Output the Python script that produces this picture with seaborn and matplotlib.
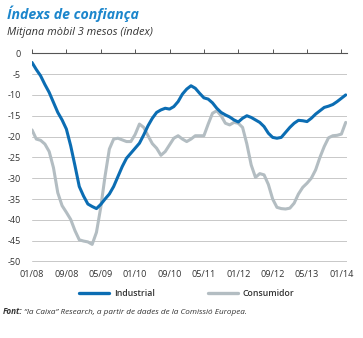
import numpy as np
import pandas as pd
import matplotlib
matplotlib.use("Agg")
import matplotlib.pyplot as plt
import seaborn as sns
from matplotlib.lines import Line2D

# ---- data (monthly, 01/08 .. 02/14) ----
industrial = [-2.2, -3.9, -5.4, -7.5, -9.4, -11.8, -14.2, -16.0, -18.2, -22.2,
              -27.0, -32.0, -34.3, -36.2, -36.8, -37.3, -36.3, -35.0, -33.8, -32.0,
              -29.6, -27.2, -25.2, -24.0, -22.8, -21.6, -19.6, -17.4, -15.6, -14.2,
              -13.6, -13.2, -13.4, -12.8, -11.6, -9.8, -8.6, -7.8, -8.4, -9.6,
              -10.7, -11.0, -11.9, -13.2, -14.2, -14.8, -15.3, -16.0, -16.5, -15.6,
              -15.0, -15.4, -16.0, -16.6, -17.6, -19.2, -20.2, -20.4, -20.2, -19.0,
              -17.8, -16.8, -16.1, -16.2, -16.4, -15.6, -14.6, -13.8, -13.0, -12.7,
              -12.3, -11.6, -10.8, -10.0]
consumidor = [-18.4, -20.6, -20.9, -21.8, -23.6, -27.5, -33.5, -36.6, -38.2, -39.9,
              -42.6, -44.8, -45.1, -45.3, -45.9, -43.0, -37.0, -29.5, -23.0, -20.6,
              -20.4, -20.8, -21.2, -21.2, -19.5, -17.0, -17.8, -19.8, -21.7, -22.8,
              -24.5, -23.6, -22.0, -20.4, -19.8, -20.6, -21.2, -20.6, -19.8, -19.8,
              -19.8, -17.0, -14.4, -13.8, -15.0, -16.8, -17.2, -16.6, -16.8, -17.8,
              -21.8, -26.8, -29.8, -28.9, -29.2, -31.5, -35.0, -37.0, -37.3, -37.4,
              -37.2, -36.0, -33.8, -32.2, -31.2, -30.0, -28.0, -25.0, -22.4, -20.3,
              -19.8, -19.7, -19.4, -16.6]
series_names = ["Industrial", "Consumidor"]
tick_labels = ["01/08", "09/08", "05/09", "01/10", "09/10", "05/11",
               "01/12", "09/12", "05/13", "01/14"]
y_ticks = [0, -5, -10, -15, -20, -25, -30, -35, -40, -45, -50]

month = np.arange(len(industrial))
df = pd.concat([
    pd.DataFrame({"mes": month, "valor": industrial, "serie": series_names[0]}),
    pd.DataFrame({"mes": month, "valor": consumidor, "serie": series_names[1]}),
])

BLUE = "#0b6db3"
GREY = "#b3bdc2"
TITLE_BLUE = "#1c86cc"
TXT = "#333333"

sns.set_style("white")
plt.rcParams["font.family"] = ["Open Sans", "DejaVu Sans"]

fig = plt.figure(figsize=(3.63, 3.38), dpi=100)
ax = fig.add_axes([32 / 363, 1 - 262.5 / 338, (347 - 32) / 363, (262.5 - 53.3) / 338])

sns.lineplot(data=df, x="mes", y="valor", hue="serie",
             palette={series_names[0]: BLUE, series_names[1]: GREY},
             hue_order=[series_names[1], series_names[0]],
             linewidth=2.2, legend=False, ax=ax)

ax.set_xlim(0, 73.3)
ax.set_ylim(-50.25, 0)
ax.set_xlabel("")
ax.set_ylabel("")

# grid lines (except 0, which is the axis line)
for v in y_ticks[1:]:
    ax.axhline(v, color="#c8c8c8", lw=0.7, zorder=0)

for s in ["left", "right", "bottom"]:
    ax.spines[s].set_visible(False)
ax.spines["top"].set_visible(True)
ax.spines["top"].set_color("#555555")
ax.spines["top"].set_linewidth(0.8)

ax.set_yticks(y_ticks)
ax.set_yticklabels([str(v) for v in y_ticks])
ax.tick_params(axis="y", length=0, pad=8, labelsize=6.5, labelcolor=TXT)

xt = np.arange(0, 8 * len(tick_labels), 8)
ax.set_xticks(xt)
ax.set_xticklabels(tick_labels)
ax.tick_params(axis="x", which="both", bottom=False, top=True, labelbottom=True,
               direction="out", length=3, width=0.7, color="#555555",
               labelsize=6.6, labelcolor=TXT, pad=2.5)
for t in ax.xaxis.get_major_ticks():
    t.tick1line.set_visible(False)
    t.tick2line.set_visible(True)

# titles
fig.text(7 / 363, 1 - 14 / 338, "Índexs de confiança", fontsize=10.2,
         fontweight="bold", fontstyle="italic", color=TITLE_BLUE, va="center", ha="left")
fig.text(7 / 363, 1 - 33 / 338, "Mitjana mòbil 3 mesos (índex)", fontsize=7.9,
         fontstyle="italic", color=TXT, va="center", ha="left")

# legend
handles = [Line2D([0], [0], color=BLUE, lw=2.4),
           Line2D([0], [0], color=GREY, lw=2.4)]
fig.legend(handles, series_names, loc="center", bbox_to_anchor=(187 / 363, 1 - 294 / 338),
           ncol=2, frameon=False, handlelength=3.4, columnspacing=6.0, handletextpad=0.6,
           prop={"size": 6.3, "weight": "semibold"}, labelcolor=TXT)

# source
t1 = fig.text(3 / 363, 1 - 312 / 338, "Font:", fontsize=5.9, fontweight="bold",
              fontstyle="italic", color=TXT, va="center", ha="left")
fig.canvas.draw()
bb = t1.get_window_extent(renderer=fig.canvas.get_renderer())
x_next = (bb.x1 + 1.2) / fig.bbox.width
fig.text(x_next, 1 - 312 / 338,
         "“la Caixa” Research, a partir de dades de la Comissió Europea.",
         fontsize=5.9, fontstyle="italic", color=TXT, va="center", ha="left")

fig.savefig("out.png", dpi=100)
